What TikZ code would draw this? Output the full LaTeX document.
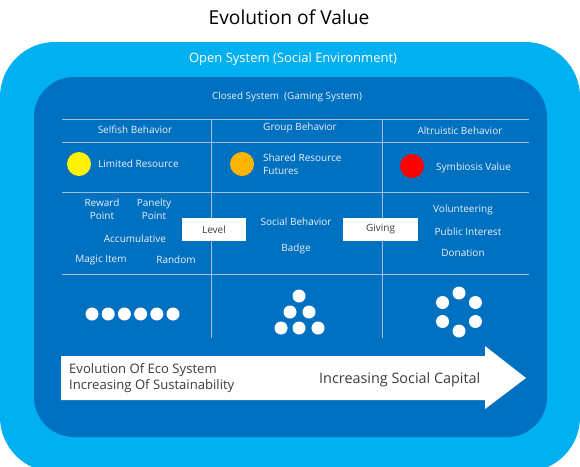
\documentclass[tikz,border=0pt]{standalone}
\usepackage{fontspec}
\setmainfont{Open Sans}
\usetikzlibrary{positioning,calc}
\definecolor{openblue}{RGB}{0,176,240}
\definecolor{closedblue}{RGB}{0,112,192}
\definecolor{gridline}{RGB}{160,188,222}
\definecolor{txtlight}{RGB}{236,241,248}
\definecolor{txtdark}{RGB}{60,60,60}

\begin{document}
\begin{tikzpicture}[x=1pt,y=-1pt,
  lbl/.style={text=txtlight,inner sep=0pt,font=\fontsize{10}{13}\selectfont,align=center},
  tag/.style={fill=white,text=txtdark,inner sep=0pt,minimum height=23pt,font=\fontsize{10}{13}\selectfont},
  res/.style={circle,inner sep=0pt,minimum size=24pt},
  dot/.style={circle,fill=white,inner sep=0pt,minimum size=13pt},
  grid/.style={gridline,line width=0.6pt}]
  \useasboundingbox (0,0) rectangle (580,466);
  \node[font=\fontsize{19.2}{22}\selectfont,text=black] (title) at (289,17) {Evolution of Value};
  % the two systems
  \fill[openblue,rounded corners=55] (0,42) rectangle (580,472);
  \fill[closedblue,rounded corners=40] (34,77) rectangle (547,437);
  \node[text=white,font=\fontsize{13}{15}\selectfont] (open) at (293,59) {Open System (Social Environment)};
  \node[lbl,font=\fontsize{9.9}{12}\selectfont] (closed) at (287,97) {Closed System~ (Gaming System)};
  % table lines
  \foreach \y in {119,142,192,274} {
    \draw[grid] (62,\y) -- (529,\y);
  }
  \foreach \x in {211,382} {
    \draw[grid] (\x,119) -- (\x,338);
  }
  % headers
  \node[lbl] (selfish) at (135,130) {Selfish Behavior};
  \node[lbl] (group) at (300,128) {Group Behavior};
  \node[lbl] (altru) at (460,131) {Altruistic Behavior};
  % resources
  \node[res,fill=yellow] (limc) at (79,164) {};
  \node[lbl,anchor=west] (lim) at (98,164) {Limited Resource};
  \node[res,fill={rgb,255:red,255;green,180;blue,0}] (shac) at (242,164) {};
  \node[lbl,anchor=west,align=left] (sha) at (263,164.5) {Shared Resource\\Futures};
  \node[res,fill=red] (symc) at (412,166) {};
  \node[lbl,anchor=west] (sym) at (436,168) {Symbiosis Value};
  % behaviours
  \node[lbl] (reward) at (102,209.5) {Reward\\Point};
  \node[lbl] (penalty) at (154,209.5) {Panelty\\Point};
  \node[lbl] (accu) at (135,239) {Accumulative};
  \node[lbl] (magic) at (101,260) {Magic Item};
  \node[lbl] (random) at (176,260) {Random};
  \node[lbl] (social) at (296,222) {Social Behavior};
  \node[lbl] (badge) at (296,249) {Badge};
  \node[lbl] (volun) at (463,210) {Volunteering};
  \node[lbl] (public) at (468,232) {Public Interest};
  \node[lbl] (donat) at (463,253) {Donation};
  \node[tag,minimum width=64pt] (level) at (214,229.5) {Level};
  \node[tag,minimum width=75pt] (giving) at (380.5,229.5) {Giving};
  % dots: row, triangle, ring
  \foreach \i in {0,...,5} {
    \node[dot] (row\i) at (92+16.2*\i,314) {};
  }
  \foreach \n/\x/\y in {t1/299/296,t2/290/312,t3/309/312,t4/281/328,t5/299/328,t6/318/328} {
    \node[dot] (\n) at (\x,\y) {};
  }
  \foreach \a [count=\i] in {90,30,-30,-90,-150,150} {
    \node[dot] (ring\i) at ($(459,312)+(\a:19)$) {};
  }
  % arrow
  \fill[white] (61,356) -- (485,356) -- (485,346) -- (526,378) -- (485,409)
    -- (485,400) -- (61,400) -- cycle;
  \node[anchor=west,align=left,text=txtdark,inner sep=0pt,
    font=\fontsize{13.1}{16}\selectfont] (eco) at (69,378.5)
    {Evolution Of Eco System\\Increasing Of Sustainability};
  \node[anchor=west,text=txtdark,inner sep=0pt,
    font=\fontsize{14.4}{17}\selectfont] (capital) at (319,380) {Increasing Social Capital};
\end{tikzpicture}
\end{document}
